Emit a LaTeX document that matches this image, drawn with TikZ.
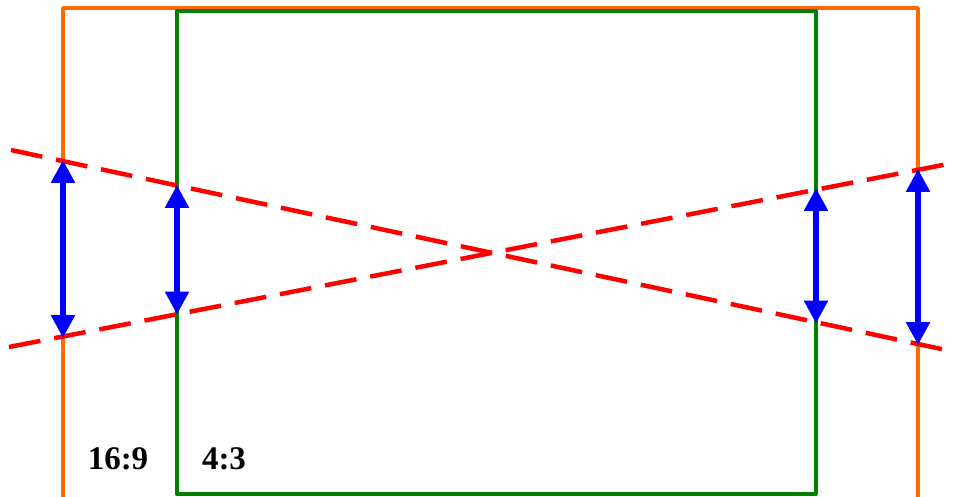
\documentclass[tikz,border=0pt]{standalone}
\usepackage{fontspec}
\setmainfont{Liberation Serif}
\usetikzlibrary{arrows.meta}
\definecolor{orng}{HTML}{FF6A00}
\definecolor{grn}{HTML}{008000}
\tikzset{
  frameo/.style={draw=orng,line width=3.5pt,line join=round},
  frameg/.style={draw=grn,line width=4pt,line join=round},
  cutline/.style={draw=red,line width=4.5pt,dash pattern=on 32pt off 14pt},
  span/.style={draw=blue,line width=5.5pt,{Triangle[length=23pt,width=23pt]}-{Triangle[length=23pt,width=23pt]},shorten <=-1pt,shorten >=-1pt},
  ratio/.style={font=\bfseries\fontsize{33}{36}\selectfont,inner sep=0pt}
}
\begin{document}
\begin{tikzpicture}[x=1pt,y=-1pt]
\useasboundingbox (0,0) rectangle (953,497);
% frames
\draw[frameo] (63,497) -- (63,8) -- (918,8) -- (918,497);
\draw[frameg] (177,11) rectangle (816,494);
% dashed lines
\coordinate (a1) at (11,150);
\coordinate (a2) at (953,351.5);
\coordinate (b1) at (9,347);
\coordinate (b2) at (953,163);
\draw[cutline] (a1) -- (a2);
\draw[cutline] (b1) -- (b2);
% intersection points
\coordinate (p1t) at (63,161);
\coordinate (p1b) at (63,337);
\coordinate (p2t) at (177,186);
\coordinate (p2b) at (177,313.5);
\coordinate (p3t) at (816,189);
\coordinate (p3b) at (816,322.5);
\coordinate (p4t) at (918,170);
\coordinate (p4b) at (918,344);
\draw[span] (p1t) -- (p1b);
\draw[span] (p2t) -- (p2b);
\draw[span] (p3t) -- (p3b);
\draw[span] (p4t) -- (p4b);
% labels
\node[ratio] (l169) at (118,459) {16:9};
\node[ratio] (l43) at (224,459) {4:3};
\end{tikzpicture}
\end{document}
